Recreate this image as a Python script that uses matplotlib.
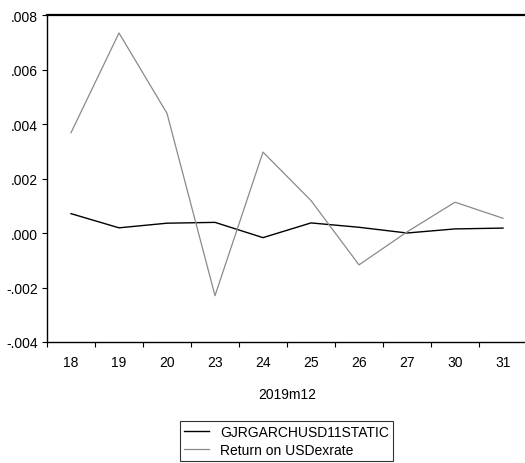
import matplotlib
matplotlib.use("Agg")
import matplotlib.pyplot as plt
from matplotlib.ticker import FuncFormatter, FixedLocator
import numpy as np

plt.rcParams["font.family"] = ["Liberation Sans", "DejaVu Sans"]
plt.rcParams["font.size"] = 10

days = ["18", "19", "20", "23", "24", "25", "26", "27", "30", "31"]
gjr_static = [0.00071, 0.00019, 0.00036, 0.00039, -0.00017, 0.00037, 0.00021, 0.00000, 0.00015, 0.00018]
usd_return = [0.00368, 0.00734, 0.00439, -0.00230, 0.00297, 0.00119, -0.00117, 0.00004, 0.00113, 0.00054]
month_label = "2019m12"


def no_lead_zero(v, pos):
    s = f"{v:.3f}"
    return s.replace("0.", ".", 1)


fig = plt.figure(figsize=(5.25, 4.64), dpi=100)
ax = fig.add_axes([47 / 525, 1 - 343 / 464, 480 / 525, 327 / 464])

x = np.arange(len(days))
ax.plot(x, gjr_static, color="black", lw=1.0, label="GJRGARCHUSD11STATIC")
ax.plot(x, usd_return, color="#8a8a8a", lw=0.9, label="Return on USDexrate")

ax.set_xlim(-0.5, len(days) - 0.5)
ax.set_ylim(-0.004, 0.008)
ax.set_yticks(np.arange(-0.004, 0.0081, 0.002))
ax.yaxis.set_major_formatter(FuncFormatter(no_lead_zero))

ax.set_xticks(x)
ax.set_xticklabels(days)
ax.xaxis.set_minor_locator(FixedLocator(np.arange(-0.5, len(days), 1.0)))
ax.tick_params(axis="x", which="major", length=0, pad=9.5)
ax.tick_params(axis="x", which="minor", length=3.5, width=0.8, direction="out")
ax.tick_params(axis="y", length=3.5, width=0.8, direction="out", pad=3)

for side in ["left", "bottom", "top"]:
    ax.spines[side].set_linewidth(1.0)
ax.spines["top"].set_linewidth(1.6)
ax.spines["right"].set_visible(False)

ax.set_xlabel(month_label, labelpad=13)

leg = fig.legend(
    loc="upper left",
    bbox_to_anchor=(180 / 525, 1 - 422 / 464),
    frameon=True,
    fancybox=False,
    edgecolor="black",
    handlelength=1.8,
    handletextpad=0.8,
    labelspacing=0.25,
    borderpad=0.3,
    borderaxespad=0,
)
leg.get_frame().set_linewidth(0.8)

fig.savefig("out.png", dpi=100)
